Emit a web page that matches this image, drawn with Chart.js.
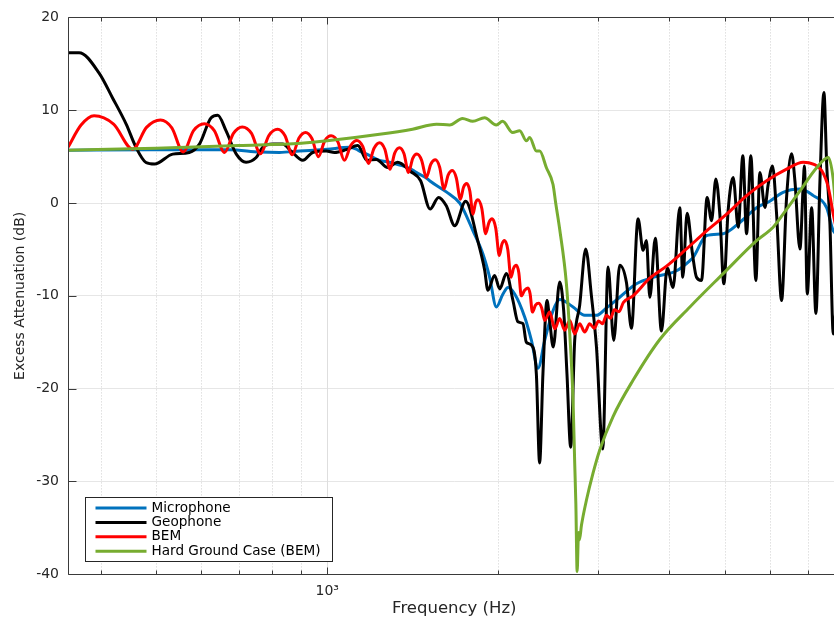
<!DOCTYPE html>
<html>
<head>
<meta charset="utf-8">
<title>Excess attenuation vs frequency</title>
<script src="https://cdn.jsdelivr.net/npm/chart.js@4.4.1/dist/chart.umd.min.js"></script>
<style>
  html, body { margin: 0; padding: 0; background: #fff; overflow: hidden; }
  #wrap { position: relative; width: 850px; height: 621px; }
</style>
</head>
<body>
<div id="wrap"><canvas id="ea"></canvas></div>
<script>
// frequency axis (Hz)
const F_MIN = 350, F_MAX = 8000;
const X_TICKS = [400, 500, 600, 700, 800, 900, 1000, 2000, 3000, 4000, 5000, 6000, 7000, 8000];
const Y_TICKS = [-40, -30, -20, -10, 0, 10, 20];

// Microphone
const micFreq = [350, 487, 673, 760, 824, 894, 1000, 1095, 1125, 1140, 1171, 1236, 1287, 1341, 1400,
  1434, 1494, 1514, 1620, 1710, 1733, 1805, 1879, 1931, 1984, 2038, 2080, 2137, 2226, 2287, 2349,
  2413, 2496, 2564, 2707, 2838, 2976, 3099, 3270, 3499, 3743, 4116, 4345, 4403, 4649, 4973, 5319,
  5692, 6006, 6338, 6785, 7161, 7559, 7766, 7975];
const micDb = [5.7, 5.75, 5.75, 5.5, 5.45, 5.6, 5.8, 6.0, 5.8, 5.6, 5.3, 4.6, 4.4, 4.1, 3.7,
  3.3, 2.7, 2.4, 1.2, 0.0, -0.6, -3.0, -5.5, -8.0, -11.2, -9.8, -9.1, -9.8, -12.3, -14.8, -17.8,
  -14.8, -11.6, -10.4, -11.2, -12.1, -12.1, -11.3, -10.15, -8.7, -8.0, -7.3, -6.2, -5.85, -3.5, -3.3, -2.1,
  -0.5, 0.2, 1.15, 1.5, 0.8, -0.5, -3.0, -3.5];

// Geophone
const geoFreq = [350, 366, 397, 419, 443, 461, 480, 497, 535, 572, 596, 625, 642, 664, 692, 720,
  750, 770, 802, 835, 864, 906, 943, 996, 1030, 1080, 1132, 1175, 1220, 1278, 1330, 1402, 1460,
  1517, 1570, 1620, 1676, 1752, 1839, 1892, 1917, 1970, 2011, 2066, 2122, 2165, 2210, 2240, 2286,
  2333, 2364, 2396, 2436, 2462, 2498, 2564, 2606, 2641, 2681, 2725, 2781, 2849, 2916, 2976, 3053,
  3119, 3192, 3270, 3361, 3429, 3522, 3595, 3644, 3694, 3777, 3872, 3964, 4059, 4171, 4222, 4296,
  4391, 4463, 4554, 4659, 4743, 4827, 4905, 4986, 5073, 5178, 5284, 5385, 5466, 5562, 5676, 5769,
  5887, 5966, 6073, 6173, 6299, 6428, 6560, 6648, 6785, 6876, 6910, 6989, 7115, 7239, 7358, 7478,
  7561, 7662, 7766, 7915];
const geoDb = [16.2, 16.2, 14.0, 11.35, 8.5, 6.0, 4.37, 4.2, 5.27, 5.45, 6.35, 9.2, 9.46, 7.77, 5.27, 4.4,
  4.9, 6.0, 6.35, 6.35, 5.6, 4.6, 5.45, 5.6, 5.45, 5.75, 6.2, 4.6, 4.7, 3.83, 4.4, 3.4, 2.4,
  -0.65, 0.6, -0.3, -2.44, 0.2, -4.0, -7.2, -9.4, -7.8, -9.25, -7.6, -10.5, -12.8, -13.0, -15.0, -15.3,
  -18.4, -28.0, -18.4, -10.5, -12.65, -15.5, -8.5, -11.6, -18.4, -26.3, -14.8, -11.0, -4.95, -10.0, -15.5, -26.5,
  -6.9, -14.8, -6.7, -8.6, -13.5, -1.7, -5.1, -4.05, -10.15, -3.8, -13.8, -7.0, -9.1, -0.5, -8.0, -1.1,
  -5.5, -8.0, -8.35, 0.6, -1.9, 2.6, -1.2, -8.7, -0.8, 2.75, -2.6, 5.1, -3.3, 5.1, -8.35, 3.3,
  -0.47, 2.0, 4.0, -1.2, -10.5, 0.6, 5.3, 2.4, -4.95, 2.0, 4.0, -9.8, -0.5, -11.9, 2.4, 11.9,
  4.2, -2.3, -14.1, -8.0];

// BEM
const bemFreq = [350, 369, 389, 421, 455, 481, 509, 533, 558, 582, 608, 633, 660, 684, 709, 736,
  763, 790, 818, 843, 868, 892, 916, 940, 965, 990, 1016, 1044, 1072, 1100, 1128, 1155, 1182, 1209,
  1236, 1263, 1290, 1315, 1340, 1365, 1390, 1414, 1438, 1466, 1494, 1522, 1550, 1577, 1605, 1632,
  1660, 1687, 1715, 1737, 1760, 1782, 1805, 1823, 1841, 1870, 1900, 1925, 1951, 1979, 2008, 2029,
  2051, 2078, 2105, 2128, 2151, 2173, 2195, 2225, 2255, 2275, 2296, 2325, 2355, 2384, 2413, 2463,
  2513, 2564, 2617, 2671, 2725, 2781, 2838, 2895, 2950, 3000, 3050, 3099, 3150, 3200, 3260, 3320,
  3451, 3693, 3953, 4285, 4649, 5042, 5466, 5928, 6428, 6877, 7161, 7409, 7610, 7766, 7975];
const bemDb = [6.0, 8.4, 9.4, 8.5, 5.8, 8.15, 8.95, 8.1, 5.5, 7.8, 8.55, 7.8, 5.45, 7.5, 8.2, 7.5,
  5.3, 7.3, 7.95, 7.25, 5.2, 7.0, 7.6, 6.95, 5.0, 6.7, 7.24, 6.6, 4.6, 6.2, 6.75, 6.1, 4.25, 5.9,
  6.5, 5.8, 3.65, 5.4, 5.95, 5.3, 3.3, 4.8, 5.27, 4.6, 2.75, 4.2, 4.65, 3.85, 1.5, 3.0,
  3.5, 2.7, 0.4, 1.7, 2.1, 1.3, -1.2, 0.0, 0.35, -0.55, -3.3, -2.1, -1.7, -2.7, -5.65, -4.45,
  -4.05, -5.0, -8.0, -7.0, -6.7, -7.5, -10.0, -9.4, -9.15, -9.8, -11.75, -11.0, -10.8, -11.3, -12.65, -11.75,
  -13.55, -12.45, -13.7, -12.65, -14.1, -13.0, -13.9, -13.0, -13.5, -12.7, -13.0, -12.1, -12.4, -11.5, -11.7, -10.7,
  -10.0, -8.1, -6.8, -4.95, -3.0, -1.2, 0.8, 2.4, 3.65, 4.4, 4.2, 3.5, 1.7, -1.2, -4.5];

// Hard Ground Case (BEM)
const hardFreq = [350, 500, 700, 900, 1000, 1236, 1413, 1557, 1642, 1730, 1803, 1892, 1984, 2035, 2120,
  2181, 2241, 2271, 2333, 2365, 2430, 2496, 2523, 2564, 2635, 2671, 2707, 2725, 2738, 2752, 2768,
  2778, 2801, 2858, 2935, 3016, 3183, 3451, 3846, 4345, 4973, 5692, 6087, 6338, 6785, 7261, 7610,
  7766, 7850];
const hardDb = [5.7, 5.9, 6.2, 6.45, 6.7, 7.4, 7.96, 8.5, 8.4, 9.1, 8.8, 9.2, 8.4, 8.8, 7.6,
  7.8, 6.7, 7.05, 5.6, 5.6, 3.8, 2.0, 0.0, -2.8, -8.7, -14.1, -21.3, -28.0, -32.5, -39.7, -35.5,
  -36.3, -34.7, -32.0, -29.1, -26.6, -23.0, -19.1, -14.7, -11.2, -7.6, -4.05, -2.6, -1.2, 1.3, 3.8, 4.9,
  2.5, -1.0];

const SERIES = [
  { label: 'Microphone', freq: micFreq, db: micDb, color: '#0072BD', order: 4 },
  { label: 'Geophone', freq: geoFreq, db: geoDb, color: '#000000', order: 3 },
  { label: 'BEM', freq: bemFreq, db: bemDb, color: '#FF0000', order: 2 },
  { label: 'Hard Ground Case (BEM)', freq: hardFreq, db: hardDb, color: '#77AC30', order: 1 }
];

const FONT = 'DejaVu Sans';
const INK = '#262626';

// dotted minor grid on the log axis, solid at the decade
const logGrid = {
  id: 'logGrid',
  beforeDatasetsDraw(chart) {
    const { ctx, chartArea: a, scales: { x } } = chart;
    ctx.save();
    ctx.lineWidth = 1;
    X_TICKS.forEach(v => {
      const px = Math.round(x.getPixelForValue(v)) + 0.5;
      if (v === 1000) {
        ctx.setLineDash([]);
        ctx.strokeStyle = '#dedede';
      } else {
        ctx.setLineDash([1, 2]);
        ctx.strokeStyle = '#cfcfcf';
      }
      ctx.beginPath();
      ctx.moveTo(px, a.top);
      ctx.lineTo(px, a.bottom);
      ctx.stroke();
    });
    ctx.restore();
  }
};

// box outline with inward tick marks
const frame = {
  id: 'frame',
  afterDatasetsDraw(chart) {
    const { ctx, chartArea: a, scales: { x, y } } = chart;
    const L = Math.round(a.left) + 0.5, R = Math.round(a.right) + 0.5;
    const T = Math.round(a.top) + 0.5, B = Math.round(a.bottom) + 0.5;
    ctx.save();
    ctx.strokeStyle = '#3a3a3a';
    ctx.lineWidth = 1;
    ctx.beginPath();
    ctx.moveTo(R, T); ctx.lineTo(L, T); ctx.lineTo(L, B); ctx.lineTo(R, B);
    Y_TICKS.forEach(v => {
      const py = Math.round(y.getPixelForValue(v)) + 0.5;
      ctx.moveTo(L, py); ctx.lineTo(L + 8, py);
    });
    X_TICKS.forEach(v => {
      const px = Math.round(x.getPixelForValue(v)) + 0.5;
      const len = v === 1000 ? 7 : 4;
      ctx.moveTo(px, B); ctx.lineTo(px, B - len);
      ctx.moveTo(px, T); ctx.lineTo(px, T + len);
    });
    ctx.stroke();
    ctx.restore();
  }
};

// legend box in the lower left corner of the axes
const key = {
  id: 'key',
  afterDraw(chart) {
    const { ctx, chartArea: a } = chart;
    const x0 = Math.round(a.left) + 17.5, y0 = Math.round(a.bottom) - 76.5;
    const w = 247, h = 64;
    ctx.save();
    ctx.fillStyle = '#ffffff';
    ctx.fillRect(x0, y0, w, h);
    ctx.strokeStyle = '#262626';
    ctx.lineWidth = 1;
    ctx.strokeRect(x0, y0, w, h);
    ctx.font = '13.6px "' + FONT + '"';
    ctx.textBaseline = 'middle';
    ctx.textAlign = 'left';
    chart.data.datasets.forEach((ds, i) => {
      const ry = y0 + 10.5 + i * 14.4;
      ctx.strokeStyle = ds.borderColor;
      ctx.lineWidth = 3;
      ctx.beginPath();
      ctx.moveTo(x0 + 10, ry);
      ctx.lineTo(x0 + 61, ry);
      ctx.stroke();
      ctx.fillStyle = '#000000';
      ctx.fillText(ds.label, x0 + 66, ry);
    });
    ctx.restore();
  }
};

new Chart(document.getElementById('ea'), {
  type: 'line',
  data: {
    datasets: SERIES.map(s => ({
      label: s.label,
      data: s.freq.map((f, i) => ({ x: f, y: s.db[i] })),
      borderColor: s.color,
      backgroundColor: s.color,
      borderWidth: 3,
      pointRadius: 0,
      fill: false,
      cubicInterpolationMode: 'monotone',
      order: s.order
    }))
  },
  options: {
    responsive: true,
    maintainAspectRatio: false,
    animation: false,
    devicePixelRatio: 1,
    layout: { padding: { top: 16, right: 9.4, bottom: 0, left: 0 } },
    plugins: {
      legend: { display: false },
      tooltip: { enabled: false }
    },
    scales: {
      x: {
        type: 'logarithmic',
        min: F_MIN,
        max: F_MAX,
        afterBuildTicks: axis => { axis.ticks = X_TICKS.map(v => ({ value: v })); },
        afterFit: axis => { axis.height = 46.7; },
        grid: { display: false, drawTicks: false },
        border: { display: false },
        ticks: {
          autoSkip: false,
          maxRotation: 0,
          minRotation: 0,
          padding: 9,
          color: INK,
          font: { family: FONT, size: 14 },
          callback: v => (v === 1000 ? '10³' : '')
        },
        title: {
          display: true,
          text: 'Frequency (Hz)',
          color: INK,
          font: { family: FONT, size: 16.5 },
          padding: { top: 0, bottom: 2 }
        }
      },
      y: {
        min: -40,
        max: 20,
        afterFit: axis => { axis.width = 68; },
        grid: { color: '#e6e6e6', lineWidth: 1, drawTicks: false },
        border: { display: false },
        ticks: {
          stepSize: 10,
          padding: 9,
          color: INK,
          font: { family: FONT, size: 14 }
        },
        title: {
          display: true,
          text: 'Excess Attenuation (dB)',
          color: INK,
          font: { family: FONT, size: 14 },
          padding: { top: 12, bottom: 0 }
        }
      }
    }
  },
  plugins: [logGrid, frame, key]
});
</script>
</body>
</html>
